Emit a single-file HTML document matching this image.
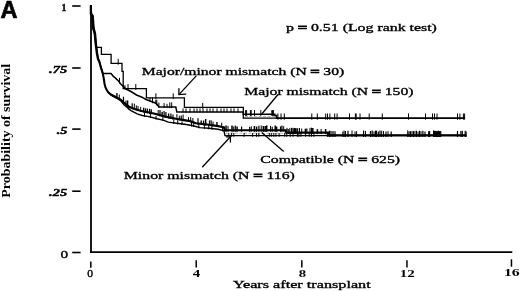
<!DOCTYPE html>
<html><head><meta charset="utf-8"><style>
html,body{margin:0;padding:0;background:#fff;width:520px;height:291px;overflow:hidden}
svg{display:block;will-change:transform}
text{fill:#000}
</style></head><body>
<svg width="520" height="291" viewBox="0 0 520 291">
<g stroke="#000" fill="none">
<line x1="91" y1="5" x2="91" y2="252.9" stroke-width="1.8"/>
<line x1="90.1" y1="252.05" x2="512.3" y2="252.05" stroke-width="1.7"/>
<line x1="72.2" y1="6" x2="80.6" y2="6" stroke-width="1.6"/>
<line x1="72.2" y1="68" x2="80.6" y2="68" stroke-width="1.6"/>
<line x1="72.2" y1="129.1" x2="80.6" y2="129.1" stroke-width="1.6"/>
<line x1="72.2" y1="191.2" x2="80.6" y2="191.2" stroke-width="1.6"/>
<line x1="72.2" y1="252.5" x2="80.6" y2="252.5" stroke-width="1.6"/>
<line x1="90.8" y1="261.5" x2="90.8" y2="267.7" stroke-width="1.5"/>
<line x1="196.2" y1="260.3" x2="196.2" y2="267.4" stroke-width="1.5"/>
<line x1="301.85" y1="260.3" x2="301.85" y2="267.4" stroke-width="1.5"/>
<line x1="406.95" y1="260.3" x2="406.95" y2="267.5" stroke-width="1.5"/>
<line x1="511.45" y1="259.3" x2="511.45" y2="266.7" stroke-width="1.5"/>
<polyline points="90.8,5.5 90.8,14.0 92.3,15.5 93.0,28.0 94.6,33.5 95.7,44.5 96.3,47.3 101.4,47.3 101.4,54.4 111.1,54.4 111.1,63.4 122.0,63.4 122.0,71.3 123.2,71.3 123.2,88.6 146.4,88.6 146.4,97.8 184.4,97.8 184.4,107.4 243.3,107.4 243.3,118.2 464.6,118.2" stroke-width="1.3"/>
<polyline points="90.8,5.5 91.6,14.0 93.1,16.0 94.0,28.0 95.4,33.5 96.4,44.5 97.4,53.3 98.5,59.0 99.6,61.8 100.5,66.0 101.8,70.0 102.8,73.5 111.0,73.5 112.1,74.7 113.3,76.4 115.0,77.6 116.8,79.4 118.0,80.5 119.1,81.7 120.3,83.5 122.0,85.2 123.8,87.0 125.5,88.8 131.0,91.5 136.5,95.0 142.0,97.2 146.0,99.5 150.0,101.0 156.0,103.2 159.0,106.9 175.8,106.9 176.8,111.9 243.3,111.9 243.3,114.2 274.8,114.2 274.8,115.6 276.5,115.6 276.5,118.3 464.6,118.3" stroke-width="1.5"/>
<polyline points="108.2,92.2 111.3,95.3 114.4,97.2 117.5,98.6 120.6,100.6 124.0,104.8 130.6,110.3 137.2,113.8 142.2,115.5 148.8,116.6 157.0,118.8 164.0,120.4 168.3,122.1 176.5,123.3 184.8,124.3 193.0,125.8 200.0,127.6 209.0,128.3 218.0,129.3 224.0,130.8 225.0,135.6 328.0,135.6 328.0,135.4 466.3,135.4" stroke-width="1.4"/>
<polyline points="90.8,5.5 90.8,14.0 92.3,15.5 93.0,28.0 94.6,33.5 95.7,44.5 96.8,53.3 97.9,59.0 99.3,61.8 101.0,67.7 102.8,73.5 103.9,79.4 104.6,84.0 105.5,87.5 106.5,89.5 108.2,92.2 111.3,94.8 114.4,96.3 117.5,97.9 120.6,99.6 124.0,102.6 129.0,106.8 133.9,108.8 140.5,110.8 147.1,112.1 157.0,114.3 164.0,116.3 170.0,117.6 176.0,118.8 184.0,120.1 190.0,121.1 196.0,123.3 209.0,124.8 218.0,126.1 224.0,127.3 224.5,130.3 285.8,130.3 285.8,132.6 328.0,132.6 328.0,135.4 466.3,135.4" stroke-width="2.1"/>
<line x1="226" y1="133.2" x2="286" y2="133.2" stroke-width="0.8" stroke="#999" stroke-dasharray="3 1.5"/>
<line x1="245" y1="116.4" x2="275" y2="116.4" stroke-width="0.8" stroke="#999" stroke-dasharray="3 1.5"/>
<g><line x1="118.2" y1="58.9" x2="118.2" y2="64.7" stroke-width="1.0"/><line x1="128.0" y1="84.1" x2="128.0" y2="89.9" stroke-width="1.0"/><line x1="135.8" y1="84.1" x2="135.8" y2="89.9" stroke-width="1.0"/><line x1="155.9" y1="93.3" x2="155.9" y2="99.1" stroke-width="1.0"/><line x1="173.2" y1="93.3" x2="173.2" y2="99.1" stroke-width="1.0"/><line x1="202.7" y1="102.9" x2="202.7" y2="108.7" stroke-width="1.0"/><line x1="119.5" y1="77.8" x2="119.5" y2="83.6" stroke-width="1.0"/><line x1="152.5" y1="97.4" x2="152.5" y2="103.2" stroke-width="1.0"/><line x1="156.8" y1="99.7" x2="156.8" y2="105.5" stroke-width="1.0"/><line x1="169.8" y1="102.4" x2="169.8" y2="108.2" stroke-width="1.0"/><line x1="171.7" y1="102.4" x2="171.7" y2="108.2" stroke-width="1.0"/><line x1="183.0" y1="108.4" x2="183.0" y2="112.4" stroke-width="1.0"/><line x1="186.0" y1="108.4" x2="186.0" y2="112.4" stroke-width="1.0"/><line x1="190.0" y1="108.4" x2="190.0" y2="112.4" stroke-width="1.0"/><line x1="194.0" y1="108.4" x2="194.0" y2="112.4" stroke-width="1.0"/><line x1="197.0" y1="108.4" x2="197.0" y2="112.4" stroke-width="1.0"/><line x1="200.0" y1="108.4" x2="200.0" y2="112.4" stroke-width="1.0"/><line x1="203.0" y1="108.4" x2="203.0" y2="112.4" stroke-width="1.0"/><line x1="207.0" y1="108.4" x2="207.0" y2="112.4" stroke-width="1.0"/><line x1="210.0" y1="108.4" x2="210.0" y2="112.4" stroke-width="1.0"/><line x1="213.0" y1="108.4" x2="213.0" y2="112.4" stroke-width="1.0"/><line x1="217.0" y1="108.4" x2="217.0" y2="112.4" stroke-width="1.0"/><line x1="221.0" y1="108.4" x2="221.0" y2="112.4" stroke-width="1.0"/><line x1="224.0" y1="108.4" x2="224.0" y2="112.4" stroke-width="1.0"/><line x1="227.0" y1="108.4" x2="227.0" y2="112.4" stroke-width="1.0"/><line x1="231.0" y1="108.4" x2="231.0" y2="112.4" stroke-width="1.0"/><line x1="234.0" y1="108.4" x2="234.0" y2="112.4" stroke-width="1.0"/><line x1="238.0" y1="108.4" x2="238.0" y2="112.4" stroke-width="1.0"/><line x1="245.6" y1="110.1" x2="245.6" y2="115.9" stroke-width="1.0"/><line x1="246.6" y1="110.1" x2="246.6" y2="115.9" stroke-width="1.0"/><line x1="250.4" y1="110.1" x2="250.4" y2="115.9" stroke-width="1.0"/><line x1="251.2" y1="110.1" x2="251.2" y2="115.9" stroke-width="1.0"/><line x1="254.5" y1="110.1" x2="254.5" y2="115.9" stroke-width="1.0"/><line x1="260.8" y1="110.1" x2="260.8" y2="115.9" stroke-width="1.0"/><line x1="271.8" y1="110.1" x2="271.8" y2="115.9" stroke-width="1.0"/><line x1="272.6" y1="110.1" x2="272.6" y2="115.9" stroke-width="1.0"/><line x1="273.4" y1="110.1" x2="273.4" y2="115.9" stroke-width="1.0"/><line x1="277.9" y1="113.5" x2="277.9" y2="119.7" stroke-width="1.0"/><line x1="281.0" y1="113.5" x2="281.0" y2="119.7" stroke-width="1.0"/><line x1="284.3" y1="113.5" x2="284.3" y2="119.7" stroke-width="1.0"/><line x1="311.8" y1="113.5" x2="311.8" y2="119.7" stroke-width="1.0"/><line x1="317.3" y1="113.5" x2="317.3" y2="119.7" stroke-width="1.0"/><line x1="325.7" y1="113.5" x2="325.7" y2="119.7" stroke-width="1.0"/><line x1="327.5" y1="113.5" x2="327.5" y2="119.7" stroke-width="1.0"/><line x1="329.9" y1="113.5" x2="329.9" y2="119.7" stroke-width="1.0"/><line x1="334.7" y1="113.5" x2="334.7" y2="119.7" stroke-width="1.0"/><line x1="337.1" y1="113.5" x2="337.1" y2="119.7" stroke-width="1.0"/><line x1="349.5" y1="113.5" x2="349.5" y2="119.7" stroke-width="1.0"/><line x1="355.4" y1="113.5" x2="355.4" y2="119.7" stroke-width="1.0"/><line x1="356.2" y1="113.5" x2="356.2" y2="119.7" stroke-width="1.0"/><line x1="360.0" y1="113.5" x2="360.0" y2="119.7" stroke-width="1.0"/><line x1="369.2" y1="113.5" x2="369.2" y2="119.7" stroke-width="1.0"/><line x1="382.3" y1="113.5" x2="382.3" y2="119.7" stroke-width="1.0"/><line x1="408.5" y1="113.5" x2="408.5" y2="119.7" stroke-width="1.0"/><line x1="425.5" y1="113.5" x2="425.5" y2="119.7" stroke-width="1.0"/><line x1="432.5" y1="113.5" x2="432.5" y2="119.7" stroke-width="1.0"/><line x1="434.5" y1="113.5" x2="434.5" y2="119.7" stroke-width="1.0"/><line x1="437.0" y1="113.5" x2="437.0" y2="119.7" stroke-width="1.0"/><line x1="457.5" y1="113.5" x2="457.5" y2="119.7" stroke-width="1.0"/><line x1="459.9" y1="113.5" x2="459.9" y2="119.7" stroke-width="1.0"/><line x1="463.4" y1="113.5" x2="463.4" y2="119.7" stroke-width="1.0"/><line x1="464.6" y1="113.5" x2="464.6" y2="119.7" stroke-width="1.0"/><line x1="116.9" y1="93.1" x2="116.9" y2="98.8" stroke-width="1.4"/><line x1="119.3" y1="94.5" x2="119.3" y2="100.1" stroke-width="1.0"/><line x1="123.5" y1="96.7" x2="123.5" y2="103.4" stroke-width="1.2"/><line x1="126.0" y1="100.5" x2="126.0" y2="105.5" stroke-width="1.0"/><line x1="127.6" y1="100.4" x2="127.6" y2="106.8" stroke-width="1.4"/><line x1="128.4" y1="105.3" x2="128.4" y2="109.5" stroke-width="1.0"/><line x1="132.2" y1="103.3" x2="132.2" y2="109.3" stroke-width="1.2"/><line x1="134.3" y1="103.6" x2="134.3" y2="110.1" stroke-width="1.0"/><line x1="136.3" y1="105.4" x2="136.3" y2="110.7" stroke-width="1.0"/><line x1="138.0" y1="105.9" x2="138.0" y2="111.2" stroke-width="1.0"/><line x1="140.7" y1="106.9" x2="140.7" y2="112.0" stroke-width="1.0"/><line x1="143.7" y1="107.8" x2="143.7" y2="112.6" stroke-width="1.4"/><line x1="144.5" y1="112.4" x2="144.5" y2="116.9" stroke-width="1.0"/><line x1="145.7" y1="108.3" x2="145.7" y2="113.0" stroke-width="1.2"/><line x1="147.4" y1="108.5" x2="147.4" y2="113.4" stroke-width="1.0"/><line x1="149.6" y1="108.8" x2="149.6" y2="113.9" stroke-width="1.4"/><line x1="150.4" y1="113.4" x2="150.4" y2="118.0" stroke-width="1.0"/><line x1="151.3" y1="109.3" x2="151.3" y2="114.2" stroke-width="1.2"/><line x1="156.0" y1="115.8" x2="156.0" y2="119.5" stroke-width="1.0"/><line x1="158.2" y1="110.0" x2="158.2" y2="115.8" stroke-width="1.0"/><line x1="160.0" y1="110.1" x2="160.0" y2="116.4" stroke-width="1.2"/><line x1="162.1" y1="111.8" x2="162.1" y2="117.0" stroke-width="1.4"/><line x1="162.9" y1="116.7" x2="162.9" y2="121.1" stroke-width="1.0"/><line x1="164.1" y1="110.9" x2="164.1" y2="117.5" stroke-width="1.2"/><line x1="165.9" y1="111.9" x2="165.9" y2="117.9" stroke-width="1.2"/><line x1="168.6" y1="113.4" x2="168.6" y2="118.5" stroke-width="1.4"/><line x1="170.9" y1="113.5" x2="170.9" y2="119.0" stroke-width="1.2"/><line x1="173.0" y1="114.6" x2="173.0" y2="119.4" stroke-width="1.2"/><line x1="173.8" y1="119.4" x2="173.8" y2="123.9" stroke-width="1.0"/><line x1="176.9" y1="114.0" x2="176.9" y2="120.1" stroke-width="1.0"/><line x1="177.7" y1="120.2" x2="177.7" y2="124.4" stroke-width="1.0"/><line x1="179.3" y1="115.7" x2="179.3" y2="120.5" stroke-width="1.0"/><line x1="181.2" y1="115.6" x2="181.2" y2="120.8" stroke-width="1.2"/><line x1="182.0" y1="121.4" x2="182.0" y2="125.0" stroke-width="1.0"/><line x1="183.1" y1="114.5" x2="183.1" y2="121.2" stroke-width="1.0"/><line x1="188.5" y1="117.1" x2="188.5" y2="122.0" stroke-width="1.0"/><line x1="190.7" y1="117.2" x2="190.7" y2="122.5" stroke-width="1.0"/><line x1="191.5" y1="122.1" x2="191.5" y2="126.5" stroke-width="1.0"/><line x1="192.9" y1="118.0" x2="192.9" y2="123.4" stroke-width="1.0"/><line x1="193.7" y1="122.7" x2="193.7" y2="127.0" stroke-width="1.0"/><line x1="198.0" y1="118.2" x2="198.0" y2="124.7" stroke-width="1.2"/><line x1="198.8" y1="124.1" x2="198.8" y2="128.3" stroke-width="1.0"/><line x1="201.2" y1="120.4" x2="201.2" y2="125.1" stroke-width="1.4"/><line x1="203.6" y1="120.5" x2="203.6" y2="125.4" stroke-width="1.4"/><line x1="204.4" y1="125.1" x2="204.4" y2="128.9" stroke-width="1.0"/><line x1="205.7" y1="119.1" x2="205.7" y2="125.6" stroke-width="1.4"/><line x1="208.7" y1="124.6" x2="208.7" y2="129.3" stroke-width="1.0"/><line x1="209.4" y1="120.4" x2="209.4" y2="126.1" stroke-width="1.0"/><line x1="211.1" y1="120.3" x2="211.1" y2="126.3" stroke-width="1.2"/><line x1="211.9" y1="126.1" x2="211.9" y2="129.6" stroke-width="1.0"/><line x1="213.0" y1="121.5" x2="213.0" y2="126.6" stroke-width="1.0"/><line x1="216.9" y1="121.9" x2="216.9" y2="127.1" stroke-width="1.4"/><line x1="221.7" y1="122.7" x2="221.7" y2="128.0" stroke-width="1.0"/><line x1="222.5" y1="127.4" x2="222.5" y2="131.4" stroke-width="1.0"/><line x1="125.0" y1="85.2" x2="125.0" y2="89.3" stroke-width="1.0"/><line x1="150.0" y1="97.5" x2="150.0" y2="102.0" stroke-width="1.0"/><line x1="155.8" y1="99.8" x2="155.8" y2="104.1" stroke-width="1.0"/><line x1="158.9" y1="102.6" x2="158.9" y2="107.8" stroke-width="1.0"/><line x1="164.1" y1="103.1" x2="164.1" y2="107.9" stroke-width="1.0"/><line x1="167.0" y1="103.8" x2="167.0" y2="107.9" stroke-width="1.0"/><line x1="226.0" y1="125.6" x2="226.0" y2="131.8" stroke-width="1.5"/><line x1="228.0" y1="125.9" x2="228.0" y2="131.8" stroke-width="1.0"/><line x1="232.0" y1="125.4" x2="232.0" y2="131.8" stroke-width="1.5"/><line x1="233.7" y1="126.5" x2="233.7" y2="131.8" stroke-width="1.0"/><line x1="235.3" y1="125.5" x2="235.3" y2="131.8" stroke-width="1.2"/><line x1="237.1" y1="126.5" x2="237.1" y2="131.8" stroke-width="1.5"/><line x1="241.6" y1="126.4" x2="241.6" y2="131.8" stroke-width="1.2"/><line x1="249.7" y1="126.7" x2="249.7" y2="131.8" stroke-width="1.2"/><line x1="251.3" y1="126.4" x2="251.3" y2="131.8" stroke-width="1.0"/><line x1="254.4" y1="126.0" x2="254.4" y2="131.8" stroke-width="1.5"/><line x1="256.6" y1="126.6" x2="256.6" y2="131.8" stroke-width="1.5"/><line x1="258.9" y1="125.8" x2="258.9" y2="131.8" stroke-width="1.2"/><line x1="261.2" y1="125.4" x2="261.2" y2="131.8" stroke-width="1.0"/><line x1="263.3" y1="126.0" x2="263.3" y2="131.8" stroke-width="1.5"/><line x1="265.2" y1="126.0" x2="265.2" y2="131.8" stroke-width="1.5"/><line x1="266.7" y1="125.4" x2="266.7" y2="131.8" stroke-width="1.5"/><line x1="270.5" y1="125.9" x2="270.5" y2="131.8" stroke-width="1.0"/><line x1="272.2" y1="126.8" x2="272.2" y2="131.8" stroke-width="1.2"/><line x1="275.2" y1="125.6" x2="275.2" y2="131.8" stroke-width="1.5"/><line x1="276.6" y1="126.5" x2="276.6" y2="131.8" stroke-width="1.5"/><line x1="280.5" y1="126.4" x2="280.5" y2="131.8" stroke-width="1.2"/><line x1="281.9" y1="125.6" x2="281.9" y2="131.8" stroke-width="1.2"/><line x1="283.7" y1="126.2" x2="283.7" y2="131.8" stroke-width="1.0"/><line x1="287.0" y1="127.9" x2="287.0" y2="134.1" stroke-width="1.0"/><line x1="288.2" y1="129.1" x2="288.2" y2="134.1" stroke-width="1.2"/><line x1="289.8" y1="128.2" x2="289.8" y2="134.1" stroke-width="1.0"/><line x1="291.6" y1="127.8" x2="291.6" y2="134.1" stroke-width="1.5"/><line x1="293.1" y1="128.3" x2="293.1" y2="134.1" stroke-width="1.2"/><line x1="294.4" y1="127.9" x2="294.4" y2="134.1" stroke-width="1.5"/><line x1="295.7" y1="128.2" x2="295.7" y2="134.1" stroke-width="1.5"/><line x1="297.2" y1="128.3" x2="297.2" y2="134.1" stroke-width="1.5"/><line x1="299.4" y1="128.0" x2="299.4" y2="134.1" stroke-width="1.2"/><line x1="301.7" y1="128.6" x2="301.7" y2="134.1" stroke-width="1.0"/><line x1="305.4" y1="128.7" x2="305.4" y2="134.1" stroke-width="1.5"/><line x1="306.8" y1="128.4" x2="306.8" y2="134.1" stroke-width="1.2"/><line x1="310.0" y1="127.9" x2="310.0" y2="134.1" stroke-width="1.0"/><line x1="311.5" y1="127.7" x2="311.5" y2="134.1" stroke-width="1.2"/><line x1="312.8" y1="128.0" x2="312.8" y2="134.1" stroke-width="1.5"/><line x1="317.4" y1="129.1" x2="317.4" y2="134.1" stroke-width="1.5"/><line x1="321.1" y1="128.9" x2="321.1" y2="134.1" stroke-width="1.0"/><line x1="325.6" y1="129.0" x2="325.6" y2="134.1" stroke-width="1.5"/><line x1="329.5" y1="130.7" x2="329.5" y2="137.0" stroke-width="1.2"/><line x1="331.0" y1="131.1" x2="331.0" y2="137.0" stroke-width="1.2"/><line x1="333.0" y1="131.0" x2="333.0" y2="137.0" stroke-width="1.2"/><line x1="335.0" y1="131.3" x2="335.0" y2="137.0" stroke-width="1.2"/><line x1="342.8" y1="131.6" x2="342.8" y2="137.0" stroke-width="1.0"/><line x1="344.0" y1="130.6" x2="344.0" y2="137.0" stroke-width="1.0"/><line x1="345.4" y1="131.1" x2="345.4" y2="137.0" stroke-width="1.2"/><line x1="348.0" y1="130.7" x2="348.0" y2="137.0" stroke-width="1.2"/><line x1="352.0" y1="130.5" x2="352.0" y2="137.0" stroke-width="1.0"/><line x1="355.0" y1="131.5" x2="355.0" y2="137.0" stroke-width="1.0"/><line x1="356.6" y1="131.2" x2="356.6" y2="137.0" stroke-width="1.0"/><line x1="363.6" y1="130.6" x2="363.6" y2="137.0" stroke-width="1.2"/><line x1="365.5" y1="130.9" x2="365.5" y2="137.0" stroke-width="1.0"/><line x1="370.5" y1="131.0" x2="370.5" y2="137.0" stroke-width="1.2"/><line x1="372.2" y1="130.6" x2="372.2" y2="137.0" stroke-width="1.2"/><line x1="374.0" y1="131.3" x2="374.0" y2="137.0" stroke-width="1.0"/><line x1="375.5" y1="130.7" x2="375.5" y2="137.0" stroke-width="1.0"/><line x1="376.5" y1="130.6" x2="376.5" y2="137.0" stroke-width="1.2"/><line x1="378.3" y1="131.4" x2="378.3" y2="137.0" stroke-width="1.2"/><line x1="380.0" y1="130.5" x2="380.0" y2="137.0" stroke-width="1.2"/><line x1="381.7" y1="130.7" x2="381.7" y2="137.0" stroke-width="1.0"/><line x1="383.5" y1="131.1" x2="383.5" y2="137.0" stroke-width="1.0"/><line x1="386.0" y1="131.5" x2="386.0" y2="137.0" stroke-width="1.2"/><line x1="388.0" y1="131.2" x2="388.0" y2="137.0" stroke-width="1.0"/><line x1="391.2" y1="131.6" x2="391.2" y2="137.0" stroke-width="1.2"/><line x1="407.7" y1="130.4" x2="407.7" y2="137.0" stroke-width="1.0"/><line x1="409.0" y1="131.3" x2="409.0" y2="137.0" stroke-width="1.2"/><line x1="410.5" y1="131.2" x2="410.5" y2="137.0" stroke-width="1.2"/><line x1="412.0" y1="130.9" x2="412.0" y2="137.0" stroke-width="1.0"/><line x1="413.5" y1="131.1" x2="413.5" y2="137.0" stroke-width="1.2"/><line x1="415.0" y1="130.8" x2="415.0" y2="137.0" stroke-width="1.0"/><line x1="416.5" y1="130.7" x2="416.5" y2="137.0" stroke-width="1.0"/><line x1="418.0" y1="131.5" x2="418.0" y2="137.0" stroke-width="1.0"/><line x1="419.5" y1="130.7" x2="419.5" y2="137.0" stroke-width="1.2"/><line x1="421.0" y1="131.1" x2="421.0" y2="137.0" stroke-width="1.0"/><line x1="422.9" y1="130.7" x2="422.9" y2="137.0" stroke-width="1.2"/><line x1="425.0" y1="131.6" x2="425.0" y2="137.0" stroke-width="1.2"/><line x1="428.7" y1="131.3" x2="428.7" y2="137.0" stroke-width="1.2"/><line x1="429.6" y1="130.9" x2="429.6" y2="137.0" stroke-width="1.2"/><line x1="433.5" y1="130.4" x2="433.5" y2="137.0" stroke-width="1.0"/><line x1="434.5" y1="130.8" x2="434.5" y2="137.0" stroke-width="1.0"/><line x1="435.5" y1="130.9" x2="435.5" y2="137.0" stroke-width="1.0"/><line x1="436.5" y1="131.1" x2="436.5" y2="137.0" stroke-width="1.0"/><line x1="437.5" y1="131.1" x2="437.5" y2="137.0" stroke-width="1.0"/><line x1="438.5" y1="130.6" x2="438.5" y2="137.0" stroke-width="1.0"/><line x1="439.5" y1="131.1" x2="439.5" y2="137.0" stroke-width="1.2"/><line x1="440.7" y1="131.1" x2="440.7" y2="137.0" stroke-width="1.2"/><line x1="457.5" y1="130.9" x2="457.5" y2="137.0" stroke-width="1.2"/><line x1="460.9" y1="131.0" x2="460.9" y2="137.0" stroke-width="1.2"/><line x1="462.3" y1="130.8" x2="462.3" y2="137.0" stroke-width="1.2"/><line x1="465.2" y1="130.8" x2="465.2" y2="137.0" stroke-width="1.2"/><line x1="466.2" y1="131.6" x2="466.2" y2="137.0" stroke-width="1.0"/><line x1="228.8" y1="133.0" x2="228.8" y2="136.8" stroke-width="1.0"/><line x1="231.6" y1="133.0" x2="231.6" y2="136.8" stroke-width="1.0"/><line x1="233.8" y1="133.0" x2="233.8" y2="136.8" stroke-width="1.0"/><line x1="244.1" y1="133.0" x2="244.1" y2="136.8" stroke-width="1.0"/><line x1="252.6" y1="133.0" x2="252.6" y2="136.8" stroke-width="1.0"/><line x1="256.6" y1="133.0" x2="256.6" y2="136.8" stroke-width="1.0"/><line x1="258.8" y1="133.0" x2="258.8" y2="136.8" stroke-width="1.0"/><line x1="269.3" y1="133.0" x2="269.3" y2="136.8" stroke-width="1.0"/><line x1="271.3" y1="133.0" x2="271.3" y2="136.8" stroke-width="1.0"/><line x1="273.8" y1="133.0" x2="273.8" y2="136.8" stroke-width="1.0"/><line x1="275.9" y1="133.0" x2="275.9" y2="136.8" stroke-width="1.0"/><line x1="279.1" y1="133.0" x2="279.1" y2="136.8" stroke-width="1.0"/><line x1="284.7" y1="133.0" x2="284.7" y2="136.8" stroke-width="1.0"/><line x1="286.8" y1="133.0" x2="286.8" y2="136.8" stroke-width="1.0"/><line x1="290.2" y1="133.0" x2="290.2" y2="136.8" stroke-width="1.0"/><line x1="293.0" y1="133.0" x2="293.0" y2="136.8" stroke-width="1.0"/><line x1="297.4" y1="133.0" x2="297.4" y2="136.8" stroke-width="1.0"/><line x1="298.9" y1="133.0" x2="298.9" y2="136.8" stroke-width="1.0"/><line x1="300.9" y1="133.0" x2="300.9" y2="136.8" stroke-width="1.0"/><line x1="305.7" y1="133.0" x2="305.7" y2="136.8" stroke-width="1.0"/><line x1="309.2" y1="133.0" x2="309.2" y2="136.8" stroke-width="1.0"/><line x1="311.4" y1="133.0" x2="311.4" y2="136.8" stroke-width="1.0"/><line x1="313.9" y1="133.0" x2="313.9" y2="136.8" stroke-width="1.0"/><line x1="327.3" y1="133.0" x2="327.3" y2="136.8" stroke-width="1.0"/></g>
<g stroke-width="1.3">
<line x1="196.5" y1="75.6" x2="178.9" y2="94.6"/><polyline points="178.9,88.3 178.9,94.6 186.2,94.2"/>
<line x1="278" y1="94.5" x2="261.8" y2="114"/>
<line x1="202.2" y1="167.3" x2="230.4" y2="136.8"/><polyline points="225.8,136.8 230.4,136.8 230.4,142.4"/>
<line x1="283.7" y1="151.6" x2="261.7" y2="132.4"/>
</g>
</g>
<text x="286.10" y="30.50" style="font-family:'Liberation Serif',serif;stroke:#000;stroke-width:0.35px;font-size:10.9px" textLength="150.81" lengthAdjust="spacingAndGlyphs">p <tspan style="stroke-width:1.1px">=</tspan> 0.51 (Log rank test)</text>
<text x="141.74" y="75.00" style="font-family:'Liberation Serif',serif;stroke:#000;stroke-width:0.35px;font-size:11.0px" textLength="202.47" lengthAdjust="spacingAndGlyphs">Major/minor mismatch (N <tspan style="stroke-width:1.1px">=</tspan> 30)</text>
<text x="244.25" y="95.30" style="font-family:'Liberation Serif',serif;stroke:#000;stroke-width:0.35px;font-size:11.2px" textLength="169.32" lengthAdjust="spacingAndGlyphs">Major mismatch (N <tspan style="stroke-width:1.1px">=</tspan> 150)</text>
<text x="260.34" y="162.90" style="font-family:'Liberation Serif',serif;stroke:#000;stroke-width:0.35px;font-size:11.0px" textLength="139.71" lengthAdjust="spacingAndGlyphs">Compatible (N <tspan style="stroke-width:1.1px">=</tspan> 625)</text>
<text x="123.74" y="178.70" style="font-family:'Liberation Serif',serif;stroke:#000;stroke-width:0.35px;font-size:11.1px" textLength="171.17" lengthAdjust="spacingAndGlyphs">Minor mismatch (N <tspan style="stroke-width:1.1px">=</tspan> 116)</text>
<text x="232.90" y="287.60" style="font-family:'Liberation Serif',serif;stroke:#000;stroke-width:0.35px;font-size:11.2px" textLength="137.79" lengthAdjust="spacingAndGlyphs">Years after transplant</text>
<text x="61.53" y="11.20" style="font-family:'Liberation Serif',serif;font-weight:bold;stroke:#000;stroke-width:0.4px;font-size:10.9px" textLength="4.88" lengthAdjust="spacingAndGlyphs">1</text>
<text x="49.10" y="73.10" style="font-family:'Liberation Serif',serif;font-weight:bold;font-style:italic;stroke:#000;stroke-width:0.4px;font-size:10.6px" textLength="18.00" lengthAdjust="spacingAndGlyphs">.75</text>
<text x="56.70" y="134.40" style="font-family:'Liberation Serif',serif;font-weight:bold;font-style:italic;stroke:#000;stroke-width:0.4px;font-size:10.8px" textLength="10.74" lengthAdjust="spacingAndGlyphs">.5</text>
<text x="49.10" y="195.90" style="font-family:'Liberation Serif',serif;font-weight:bold;font-style:italic;stroke:#000;stroke-width:0.4px;font-size:10.6px" textLength="18.00" lengthAdjust="spacingAndGlyphs">.25</text>
<text x="60.45" y="257.80" style="font-family:'Liberation Serif',serif;stroke:#000;stroke-width:0.35px;font-size:10.9px" textLength="7.63" lengthAdjust="spacingAndGlyphs">0</text>
<text x="87.32" y="277.30" style="font-family:'Liberation Serif',serif;stroke:#000;stroke-width:0.35px;font-size:10.4px" textLength="5.81" lengthAdjust="spacingAndGlyphs">0</text>
<text x="192.84" y="276.50" style="font-family:'Liberation Serif',serif;font-weight:bold;font-size:10.4px" textLength="7.45" lengthAdjust="spacingAndGlyphs">4</text>
<text x="298.84" y="276.50" style="font-family:'Liberation Serif',serif;font-weight:bold;font-size:10.4px" textLength="7.40" lengthAdjust="spacingAndGlyphs">8</text>
<text x="399.82" y="276.60" style="font-family:'Liberation Serif',serif;font-weight:bold;font-size:10.4px" textLength="14.94" lengthAdjust="spacingAndGlyphs">12</text>
<text x="503.96" y="276.20" style="font-family:'Liberation Serif',serif;font-weight:bold;font-size:10.4px" textLength="15.73" lengthAdjust="spacingAndGlyphs">16</text>
<text transform="translate(9.50,197.68) rotate(-90)" x="0" y="0" style="font-family:'Liberation Serif',serif;font-weight:bold;font-size:12.3px" textLength="133.83" lengthAdjust="spacingAndGlyphs">Probability of survival</text>
<text transform="translate(0.39,18.15) scale(0.9424,0.9884)" x="0" y="0" style="font-family:'Liberation Sans',sans-serif;font-weight:bold;font-size:25px;stroke:#000;stroke-width:0.7px">A</text>
</svg>
</body></html>
